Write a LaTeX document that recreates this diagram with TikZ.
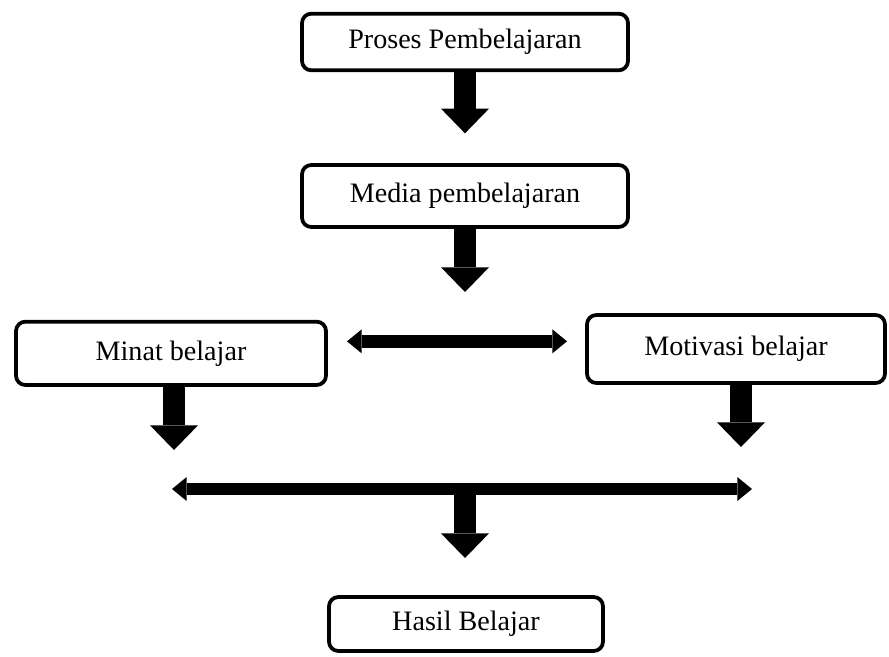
\documentclass[tikz,border=0pt]{standalone}
\usepackage{fontspec}
\setmainfont{Liberation Serif}
\usetikzlibrary{arrows.meta}

\begin{document}
\begin{tikzpicture}[
	box/.style={draw, line width=1.6pt, rounded corners=4pt, inner sep=0pt, font=\fontsize{12}{14}\selectfont},
	down/.style={line width=9.4pt, -{Triangle[width=0.72cm, length=0.37cm, line width=0pt]}},
	both/.style={line width=5.3pt, {Triangle[width=0.36cm, length=0.22cm, line width=0pt]}-{Triangle[width=0.36cm, length=0.22cm, line width=0pt]}}
]
				\useasboundingbox (0, 0) rectangle (13.335, -9.84);
				\node[box, minimum width=4.89cm, minimum height=0.85cm] (proses)at(6.975, -0.63) {Proses Pembelajaran};
				\node[box, minimum width=4.89cm, minimum height=0.93cm] (media)at(6.975, -2.94) {Media pembelajaran};
				\node[box, minimum width=4.65cm, minimum height=0.95cm] (minat)at(2.565, -5.30) {Minat belajar};
				\node[box, minimum width=4.47cm, minimum height=1.02cm] (motivasi)at(11.04, -5.235) {Motivasi belajar};
				\node[box, minimum width=4.11cm, minimum height=0.81cm] (hasil)at(6.99, -9.36) {Hasil Belajar};
				\coordinate (t1) at (6.975, -2.0);
				\coordinate (t2) at (6.975, -4.38);
				\coordinate (tl) at (2.61, -6.75);
				\coordinate (tr) at (11.115, -6.705);
				\coordinate (ml) at (5.205, -5.12);
				\coordinate (mr) at (8.505, -5.12);
				\coordinate (bl) at (2.58, -7.335);
				\coordinate (br) at (11.28, -7.335);
				\coordinate (t3) at (6.975, -8.37);
				\draw[down] (proses) -- (t1);
				\draw[down] (media) -- (t2);
				\draw[down] (minat.south -| tl) -- (tl);
				\draw[down] (motivasi.south -| tr) -- (tr);
				\draw[both] (ml) -- (mr);
				\draw[both] (bl) -- (br);
				\draw[down] (bl -| t3) -- (t3);
			\end{tikzpicture}
\end{document}
